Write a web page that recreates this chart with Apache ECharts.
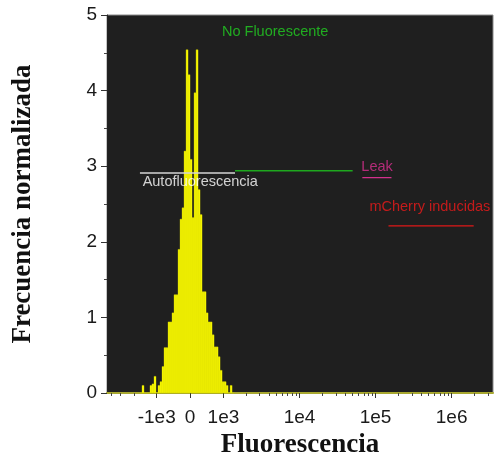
<!DOCTYPE html>
<html>
<head>
<meta charset="utf-8">
<script src="https://cdn.jsdelivr.net/npm/echarts@6/dist/echarts.min.js"></script>
<style>
  html, body { margin: 0; padding: 0; background: #ffffff; }
  #chart { width: 498px; height: 461px; }
</style>
</head>
<body>
<div id="chart"></div>
<script>
// Fluorescence histogram on a biexponential axis (linear near zero, log beyond ±1e3)

// Histogram: uniform bins in display units, heights = normalized frequency
const BIN_START = -1.5;
const BIN_WIDTH = 0.06;
const binHeights = [
  0, 0.10, 0, 0, 0, 0.10, 0.12, 0.22, 0, 0.10,
  0.15, 0.35, 0.60, 0.60, 0.94, 0.94, 1.06, 1.30, 1.30, 1.90,
  2.30, 2.45, 3.20, 4.54, 4.21, 3.09, 2.32, 3.97, 4.54, 2.69,
  2.36, 1.34, 1.34, 1.06, 0.94, 0.94, 0.77, 0.61, 0.61, 0.48,
  0.30, 0.15, 0.15, 0.10, 0, 0.10, 0
];

// Axis ticks (fluorescence values) and their labels
const majorTicks = [-1e3, 0, 1e3, 1e4, 1e5, 1e6];
const majorLabels = ['-1e3', '0', '1e3', '1e4', '1e5', '1e6'];
const minorTicks = [
  -4e3, -3e3, -2e3,
  2e3, 3e3, 4e3, 5e3, 6e3, 7e3, 8e3, 9e3,
  2e4, 3e4, 4e4, 5e4, 6e4, 7e4, 8e4, 9e4,
  2e5, 3e5, 4e5, 5e5, 6e5, 7e5, 8e5, 9e5,
  2e6, 3e6
];
const axisRange = [-4.5e3, 3.5e6];

// Gates: [from, to] in fluorescence, height in normalized frequency
const gateNames = ['Autofluorescencia', 'No Fluorescente', 'Leak', 'mCherry inducidas'];
const gateRanges = [[-1.66e3, 1.42e3], [1.42e3, 5.0e4], [6.7e4, 1.62e5], [1.48e5, 1.95e6]];
const gateLevels = [2.91, 2.94, 2.85, 2.21];
const gateColors = ['#d6d6d6', '#1ea81e', '#d2308c', '#e01818'];

// Gate captions: anchor [fluorescence, frequency], alignment
const captionAnchors = [[-1.53e3, 2.795], [4.79e3, 4.775], [6.51e4, 2.987], [8.3e4, 2.457]];
const captionAlign = ['left', 'center', 'left', 'left'];
const captionColors = ['#ffffff', '#22d022', '#d8308e', '#ee1a1a'];

// Biexponential display transform
const LIN = 1000;
const DECADE = 2.28;
function toDisplay(v) {
  if (Math.abs(v) <= LIN) return v / LIN;
  const s = Math.sign(v);
  return s * (1 + Math.log10(Math.abs(v) / LIN) * DECADE);
}

const majorPos = majorTicks.map(toDisplay);
const minorPos = minorTicks.map(toDisplay);

const histData = binHeights.map((h, i) => [BIN_START + i * BIN_WIDTH, BIN_START + (i + 1) * BIN_WIDTH, h]);

const chart = echarts.init(document.getElementById('chart'), null, { renderer: 'canvas' });

const gateSeries = gateNames.map((name, i) => ({
  type: 'line',
  name: name,
  xAxisIndex: 0,
  symbol: 'none',
  silent: true,
  lineStyle: { color: gateColors[i], width: 1.3 },
  data: gateRanges[i].map(v => [toDisplay(v), gateLevels[i]]),
  z: 5
}));

const captionSeries = gateNames.map((name, i) => ({
  type: 'scatter',
  xAxisIndex: 0,
  symbolSize: 0,
  silent: true,
  data: [[toDisplay(captionAnchors[i][0]), captionAnchors[i][1]]],
  label: {
    show: true,
    position: [0, 0],
    align: captionAlign[i],
    verticalAlign: 'middle',
    formatter: name,
    color: captionColors[i],
    fontFamily: 'Liberation Sans, Arial, sans-serif',
    fontSize: 14.5
  },
  z: 6
}));

chart.setOption({
  animation: false,
  grid: {
    left: 107, right: 5, top: 15, bottom: 68,
    outerBoundsMode: 'none',
    containLabel: false,
    show: true,
    backgroundColor: '#1f1f1f',
    borderColor: '#8a8a8a',
    borderWidth: 1
  },
  xAxis: [
    {
      type: 'value',
      min: toDisplay(axisRange[0]),
      max: toDisplay(axisRange[1]),
      position: 'bottom',
      name: 'Fluorescencia',
      nameLocation: 'middle',
      nameGap: 37,
      nameTextStyle: {
        fontFamily: 'Liberation Serif, Times New Roman, serif',
        fontWeight: 'bold', fontSize: 27, color: '#111'
      },
      axisLine: { show: true, onZero: false, lineStyle: { color: '#a8a830', width: 2 } },
      axisTick: { show: true, length: 5, customValues: majorPos, lineStyle: { color: '#333' } },
      axisLabel: {
        customValues: majorPos,
        margin: 15,
        fontFamily: 'Liberation Sans, Arial, sans-serif',
        fontSize: 19,
        color: '#1a1a1a',
        formatter: function (val) {
          let best = 0;
          for (let i = 1; i < majorPos.length; i++) {
            if (Math.abs(majorPos[i] - val) < Math.abs(majorPos[best] - val)) best = i;
          }
          return majorLabels[best];
        }
      },
      splitLine: { show: false }
    },
    {
      type: 'value',
      min: toDisplay(axisRange[0]),
      max: toDisplay(axisRange[1]),
      position: 'bottom',
      axisLine: { show: false, onZero: false },
      axisTick: { show: true, length: 3, customValues: minorPos, lineStyle: { color: '#444' } },
      axisLabel: { show: false },
      splitLine: { show: false }
    }
  ],
  yAxis: {
    type: 'value',
    min: 0, max: 5, interval: 1,
    position: 'left',
    name: 'Frecuencia normalizada',
    nameLocation: 'middle',
    nameRotate: 90,
    nameGap: 70,
    nameTextStyle: {
      fontFamily: 'Liberation Serif, Times New Roman, serif',
      fontWeight: 'bold', fontSize: 27, color: '#111'
    },
    axisLine: { show: true, onZero: false, lineStyle: { color: '#222', width: 1 } },
    axisTick: { show: true, length: 6, lineStyle: { color: '#333' } },
    minorTick: { show: true, splitNumber: 2, length: 3, lineStyle: { color: '#444' } },
    axisLabel: {
      margin: 10,
      fontFamily: 'Liberation Sans, Arial, sans-serif',
      fontSize: 19,
      color: '#1a1a1a'
    },
    splitLine: { show: false }
  },
  series: [
    {
      type: 'custom',
      xAxisIndex: 0,
      silent: true,
      data: histData,
      encode: { x: [0, 1], y: 2 },
      renderItem: function (params, api) {
        const p0 = api.coord([api.value(0), api.value(2)]);
        const p1 = api.coord([api.value(1), 0]);
        return {
          type: 'rect',
          shape: { x: p0[0], y: p0[1], width: p1[0] - p0[0], height: p1[1] - p0[1] },
          style: { fill: '#ffff00', stroke: '#c4c400', lineWidth: 0.4 }
        };
      },
      z: 3
    }
  ].concat(gateSeries, captionSeries)
});
</script>
</body>
</html>
